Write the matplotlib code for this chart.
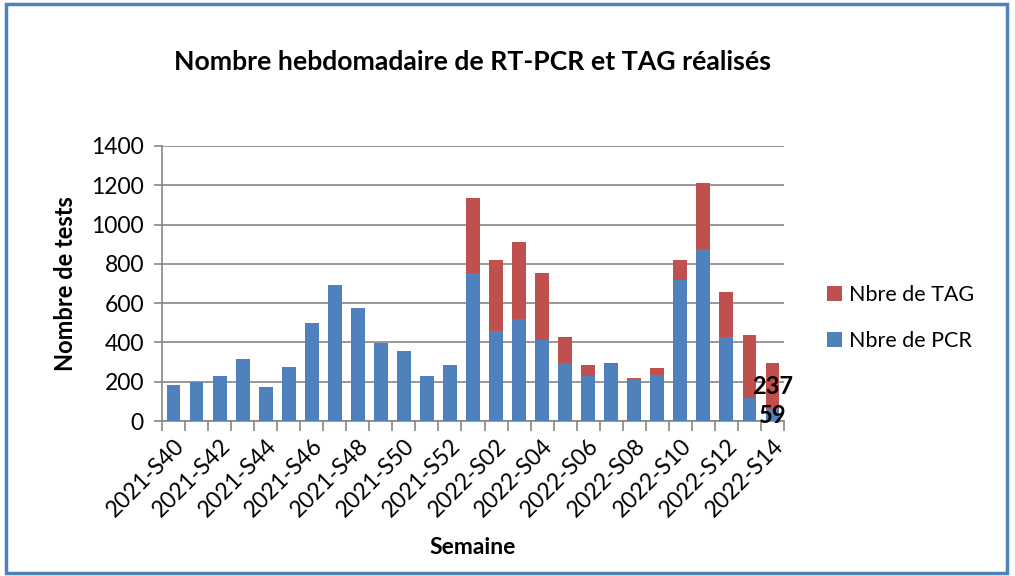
import matplotlib
matplotlib.use("Agg")
import matplotlib.pyplot as plt
from matplotlib.patches import Rectangle
import numpy as np

plt.rcParams['font.family'] = ['Lato', 'DejaVu Sans']

weeks = ["2021-S40", "2021-S41", "2021-S42", "2021-S43", "2021-S44", "2021-S45",
         "2021-S46", "2021-S47", "2021-S48", "2021-S49", "2021-S50", "2021-S51",
         "2021-S52", "2022-S01", "2022-S02", "2022-S03", "2022-S04", "2022-S05",
         "2022-S06", "2022-S07", "2022-S08", "2022-S09", "2022-S10", "2022-S11",
         "2022-S12", "2022-S13", "2022-S14"]
pcr = [185, 199, 231, 314, 171, 277, 497, 694, 577, 396, 355, 231, 284,
       752, 458, 518, 414, 295, 231, 289, 212, 236, 720, 878, 426, 119, 59]
tag = [0, 0, 0, 0, 0, 0, 0, 0, 0, 0, 0, 0, 0,
       381, 360, 392, 338, 131, 53, 6, 7, 32, 98, 333, 229, 321, 237]
labelled_index = 26

title = "Nombre hebdomadaire de RT-PCR et TAG réalisés"
ylabel = "Nombre de tests"
xlabel = "Semaine"
legend_tag = "Nbre de TAG"
legend_pcr = "Nbre de PCR"

blue = "#4F81BD"
red = "#C0504D"
grid_c = "#868686"

W, H = 1015, 576
fig = plt.figure(figsize=(W / 100, H / 100), dpi=100)
fig.patch.set_facecolor("white")

# outer frame
fig.patches.append(Rectangle((6 / W, 3 / H), 1001 / W, 569 / H, transform=fig.transFigure,
                             fill=False, edgecolor=blue, linewidth=2.5))

ax = fig.add_axes([162 / W, 1 - 421 / H, (784 - 162) / W, (421 - 146) / H])
x = np.arange(len(weeks))
ax.bar(x, pcr, width=0.6, color=blue, linewidth=0, label=legend_pcr, zorder=3)
ax.bar(x, tag, width=0.6, bottom=pcr, color=red, linewidth=0, label=legend_tag, zorder=3)

ax.set_xlim(-0.5, len(weeks) - 0.5)
ax.set_ylim(0, 1400)
ax.set_yticks(np.arange(0, 1401, 200))
ax.yaxis.grid(True, color=grid_c, linewidth=1.2, zorder=0)
ax.set_axisbelow(True)
for s in ["top", "right"]:
    ax.spines[s].set_visible(False)
for s in ["left", "bottom"]:
    ax.spines[s].set_color(grid_c)
    ax.spines[s].set_linewidth(1.2)

ax.tick_params(axis="y", direction="out", length=6, color=grid_c, width=1.2, labelsize=16.5, pad=7)
# minor ticks at category boundaries, labels on major at every other category
ax.set_xticks(np.arange(-0.5, len(weeks), 1.0), minor=True)
ax.tick_params(axis="x", which="minor", direction="out", length=7, color=grid_c, width=1.2)
ax.set_xticks(x[::2])
ax.set_xticklabels([weeks[i] for i in x[::2]], rotation=45, ha="right", va="top",
                   rotation_mode="anchor", fontsize=16.5)
ax.tick_params(axis="x", which="major", length=0, pad=10)

ax.set_ylabel(ylabel, fontsize=17, fontweight="bold", labelpad=10)
ax.set_xlabel(xlabel, fontsize=16.5, fontweight="bold", labelpad=12)
fig.text(473 / W, 1 - 62 / H, title, fontsize=19.2, fontweight="bold", ha="center", va="center")

# data labels for the last week
i = labelled_index
ax.text(x[i], pcr[i] / 2, str(pcr[i]), ha="center", va="center", fontsize=17, fontweight="bold", zorder=5)
ax.text(x[i], pcr[i] + tag[i] / 2, str(tag[i]), ha="center", va="center", fontsize=17, fontweight="bold", zorder=5)

handles, labels = ax.get_legend_handles_labels()
leg = fig.legend(handles[::-1], labels[::-1], loc="center left", bbox_to_anchor=(808 / W, 1 - 318 / H),
                 frameon=False, fontsize=15.5, handlelength=0.7, handleheight=0.7, handletextpad=0.3,
                 labelspacing=1.2)

fig.savefig("out.png", dpi=100)
